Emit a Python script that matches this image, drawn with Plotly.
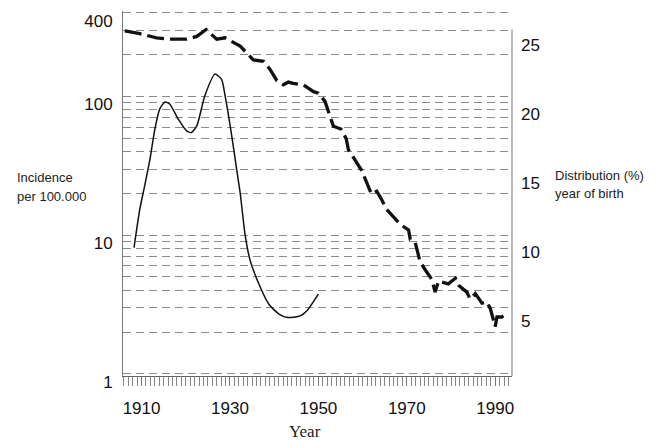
import plotly.graph_objects as go

# Incidence per 100.000 (left, log axis)
inc_year = [1908.3, 1909.6, 1910.7, 1911.9, 1913.0, 1914.1, 1915.3, 1916.4, 1918.3, 1920.2,
            1921.3, 1922.5, 1924.3, 1926.6, 1928.1, 1928.9, 1930.4, 1931.5, 1932.3, 1933.4,
            1934.5, 1936.4, 1938.8, 1941.1, 1943.0, 1945.9, 1947.4, 1950.0]
inc_val = [8.15, 15.4, 22.7, 35.3, 58, 81, 91.4, 88, 68.6, 56.5,
           55, 61.4, 101, 145, 133, 101, 52, 29.9, 20.3, 10.2,
           6.7, 4.56, 3.18, 2.70, 2.55, 2.62, 2.85, 3.76]

# Distribution (%) by year of birth (right axis)
dist_year = [1906.2, 1909.6, 1913.4, 1916.4, 1920.2, 1922.5, 1924.6, 1927.0, 1928.9, 1932.3,
             1935.3, 1937.6, 1939.1, 1940.6, 1942.1, 1943.2, 1944.3, 1946.6, 1948.9, 1950.0,
             1951.5, 1952.7, 1953.4, 1955.1, 1956.3, 1956.8, 1959.1, 1959.8, 1962.0, 1963.2,
             1964.3, 1965.4, 1967.4, 1968.5, 1970.4, 1970.8, 1971.9, 1973.0, 1974.2, 1975.7,
             1976.4, 1977.2, 1979.4, 1981.0, 1981.7, 1983.6, 1984.3, 1985.5, 1987.0, 1988.1,
             1988.9, 1990.0, 1990.4, 1991.5, 1992.3]
dist_val = [26.0, 25.8, 25.5, 25.4, 25.4, 25.6, 26.1, 25.4, 25.5, 24.9,
            23.9, 23.8, 23.2, 22.4, 22.1, 22.3, 22.2, 22.1, 21.6, 21.5,
            20.9, 19.8, 19.1, 18.9, 18.2, 17.4, 16.3, 15.9, 14.2, 14.4,
            13.8, 13.1, 12.4, 12.0, 11.6, 10.9, 10.7, 9.3, 8.7, 8.0,
            7.1, 7.9, 7.7, 8.1, 7.6, 7.1, 6.6, 7.0, 6.3, 6.4,
            5.9, 4.6, 5.3, 5.3, 5.5]

left_ticks = [1, 10, 100, 400]
left_minor = [2, 3, 4, 5, 6, 7, 8, 9, 20, 30, 40, 50, 60, 70, 80, 90, 200, 300]
right_ticks = [5, 10, 15, 20, 25]

OFF = 8  # page body margin
W, H = 655 - OFF, 442 - OFF
# plot area in window pixels
L, R, T, B = 123, 512, 11, 376


def px(x):
    return (x - L) / (R - L)


def py(y):
    return (B - y) / (B - T)


fig = go.Figure()
fig.add_trace(go.Scatter(x=inc_year, y=inc_val, mode="lines",
                         line=dict(color="#111", width=1.5, shape="spline", smoothing=0.6),
                         showlegend=False, yaxis="y"))
fig.add_trace(go.Scatter(x=dist_year, y=dist_val, mode="lines",
                         line=dict(color="#111", width=3.3, dash="17px,6px"),
                         showlegend=False, yaxis="y2"))

fig.update_layout(
    width=W, height=H,
    margin=dict(l=L - OFF, r=655 - R, t=T - OFF, b=442 - B, autoexpand=False),
    paper_bgcolor="white", plot_bgcolor="white",
    font=dict(family="Liberation Sans, Arial", size=17, color="#111"),
    xaxis=dict(range=[1905.8, 1993.8], tickmode="linear", tick0=1910, dtick=20,
               ticks="outside", ticklen=9, tickcolor="#777", showgrid=False,
               showline=True, linecolor="#666", linewidth=1, zeroline=False,
               ticklabelstandoff=8,
               minor=dict(dtick=1, tick0=1906, ticks="outside", ticklen=9, tickcolor="#888",
                          showgrid=False)),
    yaxis=dict(type="log", range=[-0.015, 2.6164], tickmode="array", tickvals=left_ticks,
               ticktext=[str(v) for v in left_ticks], ticks="", showline=True,
               linecolor="#777", linewidth=1, zeroline=False, showgrid=True,
               gridcolor="#8a8a8a", griddash="8px,5px", gridwidth=1,
               ticklabelshift=8, ticklabelstandoff=6,
               minor=dict(tickmode="array", tickvals=left_minor, showgrid=True,
                          gridcolor="#8a8a8a", griddash="8px,5px", ticks="")),
    yaxis2=dict(overlaying="y", side="right", anchor="x", range=[1.03, 27.44],
                tickmode="array", tickvals=right_ticks, ticks="", showgrid=False,
                showline=False, zeroline=False, ticklabelstandoff=8),
)

fig.add_shape(type="line", xref="paper", yref="y2", x0=1, x1=1, y0=1.03, y1=26.1,
              line=dict(color="#777", width=1))

ann_font = dict(family="Liberation Sans, Arial", size=13, color="#222")
for txt, x, y, anc in [("Incidence", 15, 177.5, "left"),
                       ("per 100.000", 15, 196.5, "left"),
                       ("Distribution (%)", 553, 175, "left"),
                       ("year of birth", 553, 193.5, "left")]:
    fig.add_annotation(text=txt, xref="paper", yref="paper", x=px(x), y=py(y),
                       xanchor=anc, yanchor="middle", showarrow=False, font=ann_font)
fig.add_annotation(text="Year", xref="paper", yref="paper", x=px(305), y=py(431.5),
                   xanchor="center", yanchor="middle", showarrow=False,
                   font=dict(family="Liberation Serif, Times New Roman", size=17, color="#222"))

fig.write_html("out.html")
